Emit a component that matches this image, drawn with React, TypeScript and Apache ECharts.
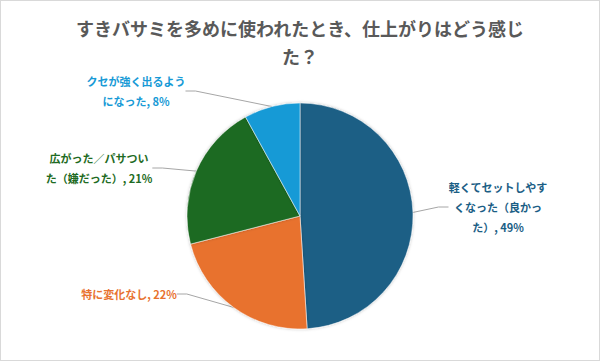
import React, { useEffect, useRef } from "react";
import * as echarts from "echarts";

const titleText = "すきバサミを多めに使われたとき、仕上がりはどう感じ\nた？";
const categories = [
  "軽くてセットしやすくなった（良かった）",
  "特に変化なし",
  "広がった／パサついた（嫌だった）",
  "クセが強く出るようになった",
];
const values = [49, 22, 21, 8];
const colors = ["#1b5e85", "#e8722f", "#1e6b23", "#179ad6"];

// label centre positions (layout only)
const labelPos: [number, number][] = [
  [497, 206],
  [128, 293],
  [98, 167],
  [135, 90],
];

function wrapName(s: string, n = 9): string[] {
  const lines: string[] = [];
  let rest = s;
  while (rest.length > n) {
    let cut = n;
    while (cut > 1 && "）」、。".includes(rest[cut])) cut--;
    lines.push(rest.slice(0, cut));
    rest = rest.slice(cut);
  }
  lines.push(rest);
  return lines;
}

export default function App() {
  const ref = useRef<HTMLDivElement>(null);
  useEffect(() => {
    if (!ref.current) return;
    const chart = echarts.init(ref.current, null, { renderer: "svg" });
    const font = '"Noto Sans CJK JP", "Noto Sans", sans-serif';
    chart.setOption({
      animation: false,
      backgroundColor: "#ffffff",
      title: {
        text: titleText,
        left: "center",
        top: 8,
        textStyle: {
          fontFamily: font,
          fontSize: 18,
          fontWeight: "bold",
          color: "#595959",
          lineHeight: 28,
        },
      },
      series: [
        {
          type: "pie",
          center: [299, 215],
          radius: 113,
          startAngle: 90,
          clockwise: true,
          data: categories.map((name, i) => ({
            name,
            value: values[i],
            itemStyle: { color: colors[i] },
            label: { color: colors[i] },
          })),
          itemStyle: {
            borderColor: "#ffffff",
            borderWidth: 0.5,
            shadowBlur: 3,
            shadowColor: "rgba(0,0,0,0.25)",
          },
          label: {
            show: true,
            position: "outside",
            fontFamily: font,
            fontSize: 11,
            fontWeight: "bold",
            lineHeight: 20,
            align: "center",
            formatter: (p: any) => {
              const lines = wrapName(p.name);
              lines[lines.length - 1] += ", " + p.value + "%";
              return lines.join("\n");
            },
          },
          labelLine: {
            show: true,
            length: 10,
            length2: 10,
            lineStyle: { color: "#a6a6a6", width: 1 },
          },
          labelLayout: (params: any) => {
            const pos = labelPos[params.dataIndex];
            return {
              x: pos[0],
              y: pos[1],
              align: "center",
              verticalAlign: "middle",
            };
          },
        },
      ],
    });
    return () => chart.dispose();
  }, []);
  return (
    <div
      ref={ref}
      style={{
        position: "fixed",
        left: 0,
        top: 0,
        width: 600,
        height: 361,
        boxSizing: "border-box",
        border: "1px solid #d9d9d9",
        background: "#fff",
      }}
    />
  );
}
